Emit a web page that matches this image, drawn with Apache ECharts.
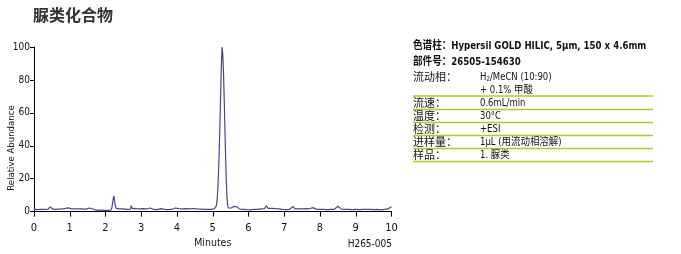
<!DOCTYPE html>
<html><head><meta charset="utf-8">
<script src="https://cdn.jsdelivr.net/npm/echarts@6/dist/echarts.min.js"></script>
<style>html,body{margin:0;padding:0;background:#fff}#c{width:681px;height:254px}</style>
</head><body><div id="c"></div>
<script>
const xTicks = [0,1,2,3,4,5,6,7,8,9,10];
const yTicks = [0,20,40,60,80,100];
const trace = [
[0.00,1.3],[0.05,1.6],[0.10,1.2],[0.15,1.9],[0.20,1.4],[0.25,1.7],[0.30,1.3],[0.35,1.8],[0.40,1.5],[0.45,2.8],
[0.50,1.6],[0.55,1.3],[0.60,1.9],[0.65,1.5],[0.70,2.2],[0.75,1.6],[0.80,1.4],[0.85,1.8],[0.90,1.3],[0.95,2.3],
[1.00,1.5],[1.05,1.7],[1.10,1.3],[1.15,1.6],[1.20,1.2],[1.25,1.7],[1.30,1.4],[1.35,1.6],[1.40,1.2],[1.45,1.5],
[1.50,1.3],[1.55,2.2],[1.60,1.4],[1.65,1.6],[1.70,1.1],[1.75,0.9],[1.80,0.7],[1.85,0.9],[1.90,0.6],[1.95,0.8],
[2.00,0.5],[2.05,0.7],[2.10,0.6],[2.15,0.9],[2.18,2.5],[2.21,7.0],[2.23,9.5],[2.25,7.5],[2.27,4.0],[2.30,2.0],
[2.35,1.4],[2.40,1.7],[2.45,1.2],[2.50,1.6],[2.55,2.4],[2.60,1.3],[2.65,1.7],[2.70,1.5],[2.72,3.6],[2.75,1.8],
[2.80,1.4],[2.85,1.9],[2.90,1.3],[2.95,1.6],[3.00,1.4],[3.05,1.8],[3.10,1.2],[3.15,1.6],[3.20,1.4],[3.25,2.2],
[3.30,1.5],[3.35,1.3],[3.40,1.7],[3.45,1.2],[3.50,1.5],[3.55,1.8],[3.60,2.4],[3.65,1.4],[3.70,1.6],[3.75,1.2],
[3.80,1.7],[3.85,1.3],[3.90,1.6],[3.95,2.2],[4.00,1.5],[4.05,1.8],[4.10,1.3],[4.15,1.7],[4.20,1.4],[4.25,1.8],
[4.30,3.0],[4.35,1.7],[4.40,1.5],[4.45,1.9],[4.50,1.4],[4.55,1.6],[4.60,2.2],[4.65,1.5],[4.70,1.7],[4.75,1.3],
[4.80,1.6],[4.85,1.4],[4.90,1.7],[4.95,1.3],[5.00,1.5],[5.04,1.6],[5.08,2.0],[5.10,3.5],[5.12,7],[5.14,13],
[5.16,23],[5.18,36],[5.20,52],[5.22,70],[5.24,88],[5.26,100],[5.28,96],[5.30,85],[5.32,69],[5.34,51],
[5.36,33],[5.38,18],[5.40,8],[5.42,3.5],[5.44,2.2],[5.48,2.8],[5.52,2.2],[5.56,2.5],[5.60,3.2],[5.64,2.4],
[5.68,2.8],[5.72,1.9],[5.76,1.5],[5.80,1.2],[5.85,1.4],[5.90,1.0],[5.95,1.2],[6.00,0.8],[6.05,1.1],[6.10,0.9],
[6.15,1.3],[6.20,1.0],[6.25,1.4],[6.30,1.2],[6.35,1.6],[6.40,1.3],[6.45,1.8],[6.50,3.5],[6.55,1.9],[6.60,1.5],
[6.65,2.0],[6.70,1.4],[6.75,1.8],[6.80,1.3],[6.85,1.7],[6.90,2.0],[6.95,1.4],[7.00,1.6],[7.05,1.2],[7.10,1.7],
[7.15,1.4],[7.20,1.6],[7.25,3.1],[7.30,1.6],[7.35,1.3],[7.40,1.7],[7.45,1.2],[7.50,1.6],[7.55,1.4],[7.60,1.8],
[7.65,1.3],[7.70,1.7],[7.75,1.5],[7.80,2.4],[7.82,3.0],[7.85,2.0],[7.90,1.5],[7.95,1.8],[8.00,1.3],[8.05,1.7],
[8.10,1.4],[8.15,1.6],[8.20,1.2],[8.25,1.5],[8.30,1.3],[8.35,1.7],[8.40,1.4],[8.45,1.8],[8.50,3.2],[8.55,2.0],
[8.60,1.5],[8.65,1.8],[8.70,1.3],[8.75,1.6],[8.80,1.4],[8.85,1.7],[8.90,1.2],[8.95,1.5],[9.00,1.3],[9.05,1.6],
[9.10,1.2],[9.15,1.5],[9.20,1.3],[9.25,1.6],[9.30,1.4],[9.35,1.9],[9.40,1.3],[9.45,1.5],[9.50,1.2],[9.55,1.6],
[9.60,1.3],[9.65,1.4],[9.70,1.1],[9.75,1.5],[9.80,1.3],[9.85,1.9],[9.90,1.6],[9.95,2.3],[10.00,3.0]
];
const titleText = '脲类化合物';
const yName = 'Relative Abundance';
const xName = 'Minutes';
const figCode = 'H265-005';
const headLines = ['色谱柱：Hypersil GOLD HILIC, 5µm, 150 x 4.6mm', '部件号：26505-154630'];
const condLabels = ['流动相：', '流速：', '温度：', '检测：', '进样量：', '样品：'];
const condValues = [['H2O/MeCN (10:90)', '+ 0.1% 甲酸'], ['0.6mL/min'], ['30°C'], ['+ESI'], ['1µL (用流动相溶解)'], ['1. 脲类']];

const NARROW = "'Liberation Sans Narrow','DejaVu Sans Condensed','Noto Sans CJK SC',sans-serif";
const CJK = "'Noto Sans CJK SC',sans-serif";
const chart = echarts.init(document.getElementById('c'), null, {renderer: 'canvas'});

const graphics = [];
graphics.push({type:'text', left: 33, top: 7, style:{text: titleText, font: "bold 16px 'Noto Sans CJK SC'", fill:'#333'}});
graphics.push({type:'text', x: 12, y: 148, rotation: Math.PI/2, style:{text: yName, font: "9.5px " + NARROW, fill:'#111', textAlign:'center', textVerticalAlign:'middle'}});
graphics.push({type:'text', x: 392, y: 244, style:{text: figCode, font: "10px " + NARROW, fill:'#111', textAlign:'right', textVerticalAlign:'middle'}});
const PX = 413, VX = 480, LX2 = 653;
graphics.push({type:'text', x: PX, y: 46.5, scaleX: 0.87, style:{text: headLines[0], font: "bold 11px " + NARROW, fill:'#111', textVerticalAlign:'middle'}});
graphics.push({type:'text', x: PX, y: 62.5, scaleX: 0.87, style:{text: headLines[1], font: "bold 11px " + NARROW, fill:'#111', textVerticalAlign:'middle'}});
const rowY = [77, 103, 116, 129, 142, 155];
const lineY = [96, 109.5, 122.5, 135.5, 148.5, 161.5];
condLabels.forEach((lab, i) => {
  graphics.push({type:'text', x: PX, y: rowY[i], style:{text: lab, font: "11px " + CJK, fill:'#111', textVerticalAlign:'middle'}});
  condValues[i].forEach((v, j) => {
    if (v.indexOf('H2O') === 0) {
      graphics.push({type:'text', x: VX, y: rowY[i], scaleX: 0.9, style:{text: '{n|H}{s|2}{n|' + v.slice(3) + '}', font: "10.5px " + NARROW, fill:'#111', textVerticalAlign:'middle',
        rich:{n:{font:"10.5px " + NARROW, fill:'#111'}, s:{font:"7px " + NARROW, fill:'#111', verticalAlign:'bottom', padding:[4,0,0,0]}}}});
    } else {
      graphics.push({type:'text', x: VX, y: rowY[i] + j*13, scaleX: 0.9, style:{text: v, font: "10.5px " + NARROW, fill:'#111', textVerticalAlign:'middle'}});
    }
  });
  graphics.push({type:'line', shape:{x1: PX, y1: lineY[i], x2: LX2, y2: lineY[i]}, style:{stroke:'#b7c722', lineWidth:1.3}});
});

chart.setOption({
  animation: false,
  grid: {left: 34, right: 289.5, top: 47, bottom: 38, containLabel: false},
  xAxis: {
    type: 'value', min: 0, max: 10, interval: 1,
    name: xName, nameLocation: 'middle', nameGap: 23,
    nameTextStyle: {fontFamily: NARROW, fontSize: 10.5, color: '#111'},
    axisLine: {show: true, lineStyle: {color: '#000', width: 1}},
    axisTick: {show: true, length: 5, lineStyle: {color: '#000'}},
    axisLabel: {fontFamily: NARROW, fontSize: 11, color: '#111', margin: 11, formatter: v => xTicks.includes(v) ? String(v) : ''},
    splitLine: {show: false}
  },
  yAxis: {
    type: 'value', min: 0, max: 100, interval: 20,
    axisLine: {show: true, lineStyle: {color: '#000', width: 1}},
    axisTick: {show: true, length: 4, lineStyle: {color: '#000'}},
    axisLabel: {fontFamily: NARROW, fontSize: 10, color: '#111', margin: 4, formatter: v => yTicks.includes(v) ? String(v) : ''},
    splitLine: {show: false}
  },
  series: [{
    type: 'line', data: trace, showSymbol: false, symbol: 'none',
    lineStyle: {color: '#47478e', width: 1.2}, smooth: false
  }],
  graphic: graphics
});
</script></body></html>
